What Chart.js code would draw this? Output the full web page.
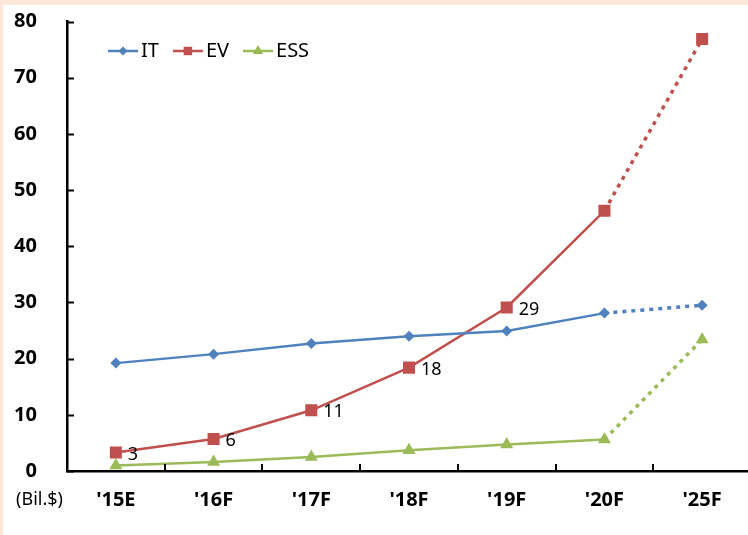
<!DOCTYPE html>
<html>
<head>
<meta charset="utf-8">
<script src="https://cdn.jsdelivr.net/npm/chart.js@4.4.1/dist/chart.umd.min.js"></script>
<style>
  html, body { margin: 0; padding: 0; overflow: hidden; background: #fff; }
  #wrap { position: absolute; left: 3px; top: 5px; width: 800px; height: 600px; background: #fff; overflow: hidden; }
  #chart { display: block; }
  .edge { position: absolute; background: #fde9d9; z-index: 2; }
  #edgeTop { left: 0; top: 0; width: 100%; height: 5px; }
  #edgeLeft { left: 0; top: 0; width: 3px; height: 100%; }
</style>
</head>
<body>
<div id="wrap"><canvas id="chart" width="752" height="530"></canvas></div>
<div class="edge" id="edgeTop"></div>
<div class="edge" id="edgeLeft"></div>
<script>
// data
const years = ["'15E", "'16F", "'17F", "'18F", "'19F", "'20F", "'25F"];
const itValues = [19.2, 20.8, 22.7, 24.0, 24.9, 28.1, 29.5];
const evValues = [3.3, 5.7, 10.8, 18.4, 29.1, 46.3, 76.9];
const essValues = [1.0, 1.6, 2.5, 3.7, 4.7, 5.6, 23.4];
const evLabels = ['3', '6', '11', '18', '29', '', ''];
const unitLabel = '(Bil.$)';

const FONT = '"Noto Sans", "DejaVu Sans", sans-serif';
Chart.defaults.font.family = FONT;
Chart.defaults.color = '#000';

// last segment ('20F -> '25F) is a forecast, drawn dotted
const lastSeg = ctx => ctx.p1DataIndex === years.length - 1;
const segment = {
  borderDash: ctx => lastSeg(ctx) ? [4, 5] : undefined,
  borderWidth: ctx => lastSeg(ctx) ? 3.5 : undefined
};

function series(label, data, color, style, radius, legendRadius) {
  return {
    label: label,
    data: data,
    borderColor: color,
    backgroundColor: color,
    pointBackgroundColor: color,
    pointBorderWidth: 0,
    pointStyle: style,
    pointRadius: radius,
    pointHoverRadius: radius,
    borderWidth: 2.5,
    borderCapStyle: 'butt',
    tension: 0,
    segment: segment,
    legendRadius: legendRadius
  };
}

// legend drawn inside the plot, line + marker like the original
const insideLegend = {
  id: 'insideLegend',
  afterDraw(chart) {
    const ctx = chart.ctx;
    let x = chart.chartArea.left + 41;
    const y = chart.chartArea.top + 29.5;
    ctx.save();
    ctx.font = '20px ' + FONT;
    ctx.textBaseline = 'middle';
    ctx.textAlign = 'left';
    chart.data.datasets.forEach(ds => {
      ctx.strokeStyle = ds.borderColor;
      ctx.lineWidth = 2.5;
      ctx.setLineDash([]);
      ctx.beginPath();
      ctx.moveTo(x, y);
      ctx.lineTo(x + 30, y);
      ctx.stroke();
      ctx.fillStyle = ds.borderColor;
      Chart.helpers.drawPoint(ctx, { pointStyle: ds.pointStyle, radius: ds.legendRadius, borderWidth: 0, rotation: 0 }, x + 15, y);
      ctx.fillStyle = '#000';
      ctx.fillText(ds.label, x + 33, y);
      x += 33 + ctx.measureText(ds.label).width + 14;
    });
    ctx.restore();
  }
};

// short tick marks pointing into the plot area, unit label, EV value labels
const innerTicks = {
  id: 'innerTicks',
  afterDraw(chart) {
    const { ctx, chartArea, scales } = chart;
    const xs = scales.x, ys = scales.y;
    ctx.save();
    ctx.strokeStyle = '#000';
    ctx.lineWidth = 2;
    ctx.beginPath();
    ys.ticks.forEach(t => {
      const py = Math.round(ys.getPixelForValue(t.value)) + 0.5;
      ctx.moveTo(chartArea.left, py);
      ctx.lineTo(chartArea.left + 7, py);
    });
    for (let i = 1; i < years.length; i++) {
      const px = Math.round((xs.getPixelForTick(i - 1) + xs.getPixelForTick(i)) / 2);
      ctx.moveTo(px, chartArea.bottom);
      ctx.lineTo(px, chartArea.bottom - 7);
    }
    ctx.stroke();

    ctx.font = '18px ' + FONT;
    ctx.fillStyle = '#000';
    ctx.textAlign = 'right';
    ctx.textBaseline = 'middle';
    ctx.fillText(unitLabel, chartArea.left - 4, chartArea.bottom + 29);

    ctx.textAlign = 'left';
    const meta = chart.getDatasetMeta(1);
    meta.data.forEach((pt, i) => {
      if (!evLabels[i]) return;
      ctx.fillText(evLabels[i], pt.x + 12, pt.y + 2);
    });
    ctx.restore();
  }
};

new Chart(document.getElementById('chart'), {
  type: 'line',
  data: {
    labels: years,
    datasets: [
      series('IT', itValues, '#4f81bd', 'rectRot', 5.5, 4.5),
      series('EV', evValues, '#c0504d', 'rect', 8.5, 6),
      series('ESS', essValues, '#9bbb59', 'triangle', 7.5, 6)
    ]
  },
  options: {
    responsive: false,
    animation: false,
    layout: { autoPadding: false, padding: { left: 11, top: 16.5, right: 4, bottom: 23 } },
    plugins: {
      legend: { display: false },
      tooltip: { enabled: false }
    },
    scales: {
      x: {
        offset: true,
        grid: { display: false, drawTicks: false },
        border: { display: true, color: '#000', width: 2.5 },
        ticks: { padding: 17, font: { size: 20, weight: 'bold' } },
        afterFit: s => { s.height = 41; s.paddingLeft = 0; s.paddingRight = 0; }
      },
      y: {
        min: 0,
        max: 80,
        grid: { display: false, drawTicks: false },
        border: { display: true, color: '#000', width: 2.5 },
        ticks: { stepSize: 10, padding: 30, font: { size: 20, weight: 'bold' } },
        afterFit: s => { s.width = 53; s.paddingTop = 0; s.paddingBottom = 0; }
      }
    }
  },
  plugins: [insideLegend, innerTicks]
});
</script>
</body>
</html>
